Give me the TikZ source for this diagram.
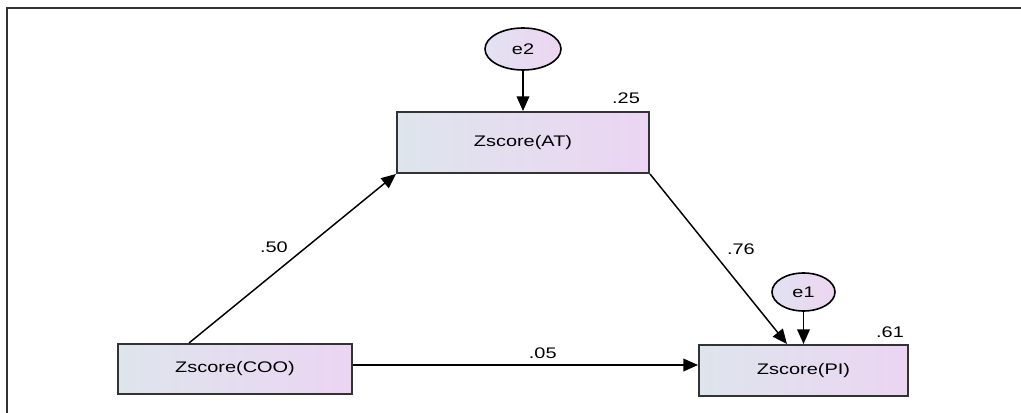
\documentclass[tikz,border=0pt]{standalone}
\usepackage{fontspec}
\setmainfont{Liberation Sans}[FakeStretch=1.3]
\usetikzlibrary{arrows.meta,shapes.geometric}

\definecolor{boxleft}{HTML}{DEE5EC}
\definecolor{boxright}{HTML}{EBD5F3}
\definecolor{errleft}{HTML}{E2E2F2}
\definecolor{errright}{HTML}{EDD5F1}
\definecolor{edgegray}{HTML}{333333}

\begin{document}
\begin{tikzpicture}[
  x=0.75pt, y=-0.75pt,
  font=\fontsize{11.5}{14}\selectfont,
  block/.style={draw=edgegray,line width=1.5pt,left color=boxleft,right color=boxright,inner sep=0pt},
  errvar/.style={draw=black,line width=1.2pt,ellipse,left color=errleft,right color=errright,inner sep=0pt},
  link/.style={-{Triangle[length=11pt,width=9.5pt]},line width=1.1pt},
  coef/.style={inner sep=0pt}]

  \useasboundingbox (0,0) rectangle (1021,413);
  \draw[line width=1.6pt,black!80] (7,413) -- (7,8) -- (1021,8);

  % Observed variables and their error terms
  \node[block,minimum width=189pt,minimum height=45.75pt] (AT) at (523,142.5) {Zscore(AT)};
  \node[block,minimum width=175.5pt,minimum height=37.5pt] (COO) at (235,369) {Zscore(COO)};
  \node[block,minimum width=156.75pt,minimum height=38.25pt] (PI) at (803.5,370.5) {Zscore(PI)};
  \node[errvar,minimum width=57pt,minimum height=31.5pt] (e2) at (523,49) {e2};
  \node[errvar,minimum width=47.25pt,minimum height=28.5pt] (e1) at (803.5,292) {e1};

  % Squared multiple correlations
  \node[coef] (R2AT) at ([xshift=-18pt,yshift=9.75pt]AT.north east) {.25};
  \node[coef] (R2PI) at ([xshift=-14.25pt,yshift=9pt]PI.north east) {.61};

  % Paths with their standardized weights
  \draw[link] (e2.south) -- (AT.north);
  \draw[link] (e1.south) -- (PI.north);
  \draw[link] ([xshift=-34.5pt]COO.north) -- node[coef,pos=0.41,yshift=19.5pt] (w50) {.50} (AT.south west);
  \draw[link] (AT.south east) -- node[coef,pos=0.44,xshift=23pt] (w76) {.76} ([xshift=-12.4pt]PI.north);
  \draw[link] ([yshift=3pt]COO.east) -- node[coef,pos=0.55,yshift=9pt] (w05) {.05} ([yshift=3pt]COO.east -| PI.west);
\end{tikzpicture}
\end{document}
